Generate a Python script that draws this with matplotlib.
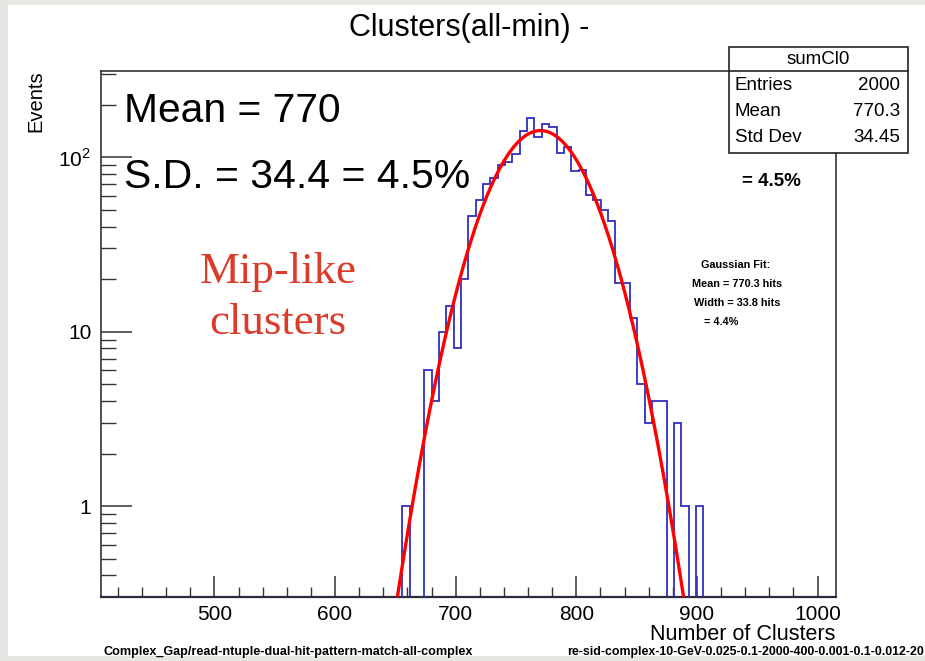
import numpy as np
import matplotlib
matplotlib.use("Agg")
import matplotlib.pyplot as plt
from matplotlib.patches import Rectangle
from matplotlib.ticker import FixedLocator, NullFormatter, LogLocator

# ---------------- data ----------------
x_min, x_max, n_bins = 406.0, 1015.0, 100
first_bin = 41
counts = [1, 0, 0, 6, 4, 10, 14, 8, 20, 46, 57, 70, 76, 90, 94, 104, 141, 167,
          130, 154, 149, 106, 115, 83, 84, 61, 57, 50, 43, 19, 19, 12, 5, 3,
          4, 4, 0, 3, 1, 0, 1]
fit_const, fit_mean, fit_sigma = 142.0, 770.3, 33.8
x_ticks = [500, 600, 700, 800, 900, 1000]
y_ticks = [1, 10, 100]
y_tick_labels = ["1", "10", "$10^{2}$"]
stats_rows = [("Entries", "2000"), ("Mean", "770.3"), ("Std Dev", "34.45")]

W, H = 925, 661
def fx(x): return x / W
def fy(y): return 1 - y / H

SANS = ["Liberation Sans", "DejaVu Sans"]
plt.rcParams["font.family"] = SANS
plt.rcParams["mathtext.fontset"] = "custom"
plt.rcParams["mathtext.rm"] = "Liberation Sans"

fig = plt.figure(figsize=(W / 100, H / 100), dpi=100)
fig.patch.set_facecolor("#e8e6e2")
fig.add_artist(Rectangle((fx(8), fy(656)), 1 - fx(8), fy(5) - fy(656),
                         transform=fig.transFigure, facecolor="white",
                         edgecolor="none", zorder=-10))

L, R, T, B = 101, 835.7, 70.7, 597
ax = fig.add_axes([fx(L), fy(B), fx(R) - fx(L), fy(T) - fy(B)])
ax.set_facecolor("white")
ax.set_yscale("log")
ax.set_xlim(x_min, x_max)
ax.set_ylim(0.301, 313)

bw = (x_max - x_min) / n_bins
edges = x_min + bw * np.arange(first_bin, first_bin + len(counts) + 1)
vals = np.array(counts, dtype=float)
vals[vals == 0] = 1e-3
ax.stairs(vals, edges, baseline=1e-3, color="#2f2fbf", lw=1.3, zorder=3)

xf = np.linspace(x_min, x_max, 1200)
yf = fit_const * np.exp(-0.5 * ((xf - fit_mean) / fit_sigma) ** 2)
yf = np.maximum(yf, 1e-6)
ax.plot(xf, yf, color="#ff0000", lw=2.4, zorder=4)

for s in ax.spines.values():
    s.set_color("#333333")
    s.set_linewidth(1.2)
ax.spines["bottom"].set_color("#2a2a40")
ax.spines["bottom"].set_linewidth(1.6)

ax.xaxis.set_major_locator(FixedLocator(x_ticks))
ax.xaxis.set_minor_locator(FixedLocator(np.arange(420, 1015, 20)))
ax.set_xticklabels([str(t) for t in x_ticks])
ax.yaxis.set_major_locator(FixedLocator(y_ticks))
ax.set_yticklabels(y_tick_labels)
ax.yaxis.set_minor_locator(LogLocator(base=10, subs=np.arange(2, 10)))
ax.yaxis.set_minor_formatter(NullFormatter())
ax.tick_params(axis="x", which="major", direction="in", length=15, width=1.1,
               color="#333333", labelsize=15, pad=6, top=False)
ax.tick_params(axis="x", which="minor", direction="in", length=7, width=1.0,
               color="#333333", top=False)
ax.tick_params(axis="y", which="major", direction="in", length=22, width=1.1,
               color="#333333", labelsize=15, pad=7, right=False)
ax.tick_params(axis="y", which="minor", direction="in", length=11, width=1.0,
               color="#333333", right=False)

# titles / axis labels
fig.text(fx(469.5), fy(28), "Clusters(all-min) -", fontsize=22, ha="center",
         va="center")
fig.text(fx(835), fy(635), "Number of Clusters", fontsize=15.5, ha="right",
         va="center")
fig.text(fx(36), fy(70), "Events", fontsize=14.5, rotation=90, ha="center",
         va="top")

# big annotations
fig.text(fx(124), fy(111), "Mean = 770", fontsize=29.3, ha="left", va="center")
fig.text(fx(124), fy(177), "S.D. = 34.4 = 4.5%", fontsize=29.5, ha="left",
         va="center")
fig.text(fx(278), fy(272), "Mip-like", fontsize=32.3, ha="center", va="center",
         color="#dc3b2a", family=["Liberation Serif", "DejaVu Serif"])
fig.text(fx(278), fy(323), "clusters", fontsize=32.3, ha="center", va="center",
         color="#dc3b2a", family=["Liberation Serif", "DejaVu Serif"])

fig.text(fx(801), fy(182), "= 4.5%", fontsize=13.5, ha="right", va="center",
         weight="bold")
fig.text(fx(736), fy(265), "Gaussian Fit:", fontsize=7.8, ha="center",
         va="center", weight="bold")
fig.text(fx(737), fy(284), "Mean = 770.3 hits", fontsize=7.8, ha="center",
         va="center", weight="bold")
fig.text(fx(737), fy(303), "Width = 33.8 hits", fontsize=7.8, ha="center",
         va="center", weight="bold")
fig.text(fx(721), fy(322), "= 4.4%", fontsize=7.8, ha="center", va="center",
         weight="bold")

# stats box
bx0, bx1, by0, by1, byt = 729, 908, 46.7, 152.7, 71
fig.add_artist(Rectangle((fx(bx0), fy(by1)), fx(bx1) - fx(bx0),
                         fy(by0) - fy(by1), transform=fig.transFigure,
                         facecolor="white", edgecolor="#222222", lw=1.2,
                         zorder=5))
fig.add_artist(plt.Line2D([fx(bx0), fx(bx1)], [fy(byt), fy(byt)],
                          transform=fig.transFigure, color="#222222", lw=1.2,
                          zorder=6))
fig.text(fx((bx0 + bx1) / 2), fy(59), "sumCl0", fontsize=13.5, ha="center",
         va="center", zorder=7)
row_y = [86, 112, 138]
for (lab, val), yy in zip(stats_rows, row_y):
    fig.text(fx(735), fy(yy), lab, fontsize=13.5, ha="left", va="center",
             zorder=7)
    fig.text(fx(900), fy(yy), val, fontsize=13.5, ha="right", va="center",
             zorder=7)

# footer
fig.text(fx(103), fy(652), "Complex_Gap/read-ntuple-dual-hit-pattern-match-all-complex",
         fontsize=9.1, ha="left", va="center", weight="bold")
fig.text(fx(924), fy(652), "re-sid-complex-10-GeV-0.025-0.1-2000-400-0.001-0.1-0.012-20",
         fontsize=8.9, ha="right", va="center", weight="bold")

fig.savefig("out.png", dpi=100)
